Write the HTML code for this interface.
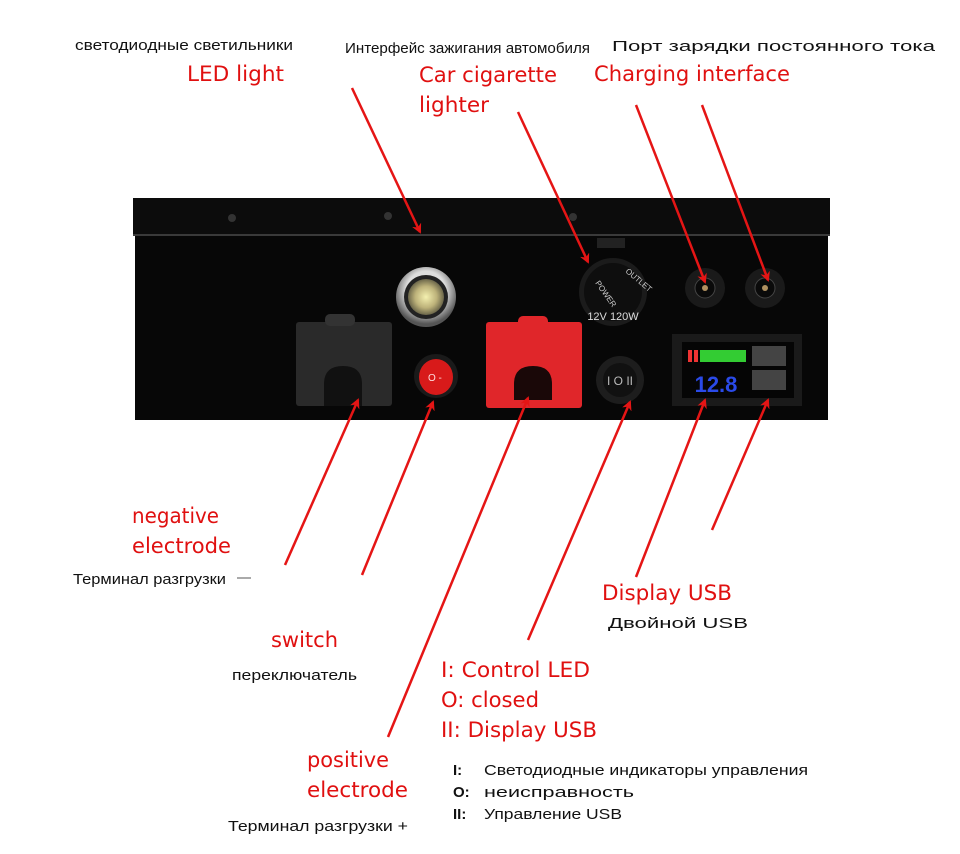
<!DOCTYPE html>
<html><head><meta charset="utf-8"><style>
html,body{margin:0;padding:0;background:#fff;}
svg{display:block}
text{font-family:"Liberation Sans","DejaVu Sans",sans-serif}
.r{fill:#e01010;font-size:21px;font-family:"DejaVu Sans",sans-serif}
.b{fill:#111;font-size:15px}
</style></head><body>
<svg width="960" height="854" viewBox="0 0 960 854" xmlns="http://www.w3.org/2000/svg">
<defs>
<marker id="ah" markerWidth="10" markerHeight="10" refX="8" refY="5" orient="auto" markerUnits="userSpaceOnUse" viewBox="0 0 10 10">
<path d="M0,0 L10,5 L0,10 L3,5z" fill="#e51515"/></marker>
<radialGradient id="led" cx="50%" cy="50%" r="50%"><stop offset="0" stop-color="#f4f0b0"/><stop offset="0.6" stop-color="#bdb27a"/><stop offset="1" stop-color="#6b664a"/></radialGradient>
<radialGradient id="ring" cx="50%" cy="40%" r="55%"><stop offset="0.6" stop-color="#ddd"/><stop offset="1" stop-color="#555"/></radialGradient>
</defs>
<rect x="133" y="198" width="697" height="38" fill="#0c0c0c"/>
<rect x="133" y="234" width="697" height="2" fill="#3a3a3a"/>
<rect x="135" y="236" width="693" height="184" fill="#070707"/>
<circle cx="232" cy="218" r="4" fill="#333"/><circle cx="388" cy="216" r="4" fill="#333"/><circle cx="573" cy="217" r="4" fill="#333"/>
<circle cx="426" cy="297" r="30" fill="url(#ring)"/>
<circle cx="426" cy="297" r="22" fill="#222"/>
<circle cx="426" cy="297" r="18" fill="url(#led)"/>
<rect x="597" y="238" width="28" height="10" fill="#222"/>
<circle cx="613" cy="292" r="34" fill="#1b1b1b"/>
<circle cx="613" cy="292" r="29" fill="#0e0e0e"/>
<text x="613" y="320" font-size="11" fill="#ddd" text-anchor="middle">12V 120W</text>
<text x="595" y="283" font-size="8" fill="#ccc" transform="rotate(55 595 283)">POWER</text>
<text x="625" y="272" font-size="8" fill="#ccc" transform="rotate(40 625 272)">OUTLET</text>
<circle cx="705" cy="288" r="20" fill="#1a1a1a"/><circle cx="705" cy="288" r="10" fill="#0a0a0a" stroke="#444"/><circle cx="705" cy="288" r="3" fill="#b09060"/>
<circle cx="765" cy="288" r="20" fill="#1a1a1a"/><circle cx="765" cy="288" r="10" fill="#0a0a0a" stroke="#444"/><circle cx="765" cy="288" r="3" fill="#b09060"/>
<rect x="296" y="322" width="96" height="84" rx="3" fill="#2a2a2a"/>
<rect x="325" y="314" width="30" height="12" rx="5" fill="#333"/>
<path d="M324,406 V384 Q324,366 343,366 Q362,366 362,384 V406z" fill="#111"/>
<circle cx="436" cy="376" r="22" fill="#1a1a1a"/>
<ellipse cx="436" cy="377" rx="17" ry="18" fill="#d81a1a"/>
<text x="428" y="381" font-size="10" fill="#fdd">O -</text>
<rect x="486" y="322" width="96" height="86" rx="3" fill="#e0262a"/>
<rect x="518" y="316" width="30" height="12" rx="5" fill="#e0262a"/>
<path d="M514,400 V384 Q514,366 533,366 Q552,366 552,384 V400z" fill="#1a0808"/>
<circle cx="620" cy="380" r="24" fill="#1d1d1d"/><circle cx="620" cy="380" r="17" fill="#111"/>
<text x="620" y="385" font-size="12" fill="#bbb" text-anchor="middle">I O II</text>
<rect x="672" y="334" width="130" height="72" fill="#1a1a1a"/>
<rect x="682" y="342" width="112" height="56" fill="#050505"/>
<rect x="688" y="350" width="4" height="12" fill="#e33"/><rect x="694" y="350" width="4" height="12" fill="#e33"/>
<rect x="700" y="350" width="46" height="12" fill="#3c3"/>
<text x="716" y="392" font-size="22" fill="#2a4ae8" text-anchor="middle" font-weight="bold">12.8</text>
<rect x="752" y="346" width="34" height="20" fill="#444"/><rect x="752" y="370" width="34" height="20" fill="#444"/>
<g stroke="#e51515" stroke-width="2.5" marker-end="url(#ah)">
<line x1="352" y1="88" x2="420" y2="232"/>
<line x1="518" y1="112" x2="588" y2="262"/>
<line x1="636" y1="105" x2="705" y2="282"/>
<line x1="702" y1="105" x2="768" y2="280"/>
<line x1="285" y1="565" x2="358" y2="400"/>
<line x1="362" y1="575" x2="433" y2="402"/>
<line x1="388" y1="737" x2="528" y2="398"/>
<line x1="528" y1="640" x2="630" y2="402"/>
<line x1="636" y1="577" x2="705" y2="400"/>
<line x1="712" y1="530" x2="768" y2="400"/>
</g>
<g lengthAdjust="spacingAndGlyphs">
<text x="75" y="50" class="b" textLength="218" lengthAdjust="spacingAndGlyphs">светодиодные светильники</text>
<text x="187" y="81" class="r" textLength="97" lengthAdjust="spacingAndGlyphs">LED light</text>
<text x="345" y="53" class="b" font-size="14" textLength="245" lengthAdjust="spacingAndGlyphs">Интерфейс зажигания автомобиля</text>
<text x="419" y="82" class="r" textLength="138" lengthAdjust="spacingAndGlyphs">Car cigarette</text>
<text x="419" y="112" class="r" textLength="70" lengthAdjust="spacingAndGlyphs">lighter</text>
<text x="612" y="51" class="b" font-size="16" textLength="323" lengthAdjust="spacingAndGlyphs">Порт зарядки постоянного тока</text>
<text x="594" y="81" class="r" textLength="196" lengthAdjust="spacingAndGlyphs">Charging interface</text>
<text x="132" y="523" class="r" textLength="87" lengthAdjust="spacingAndGlyphs">negative</text>
<text x="132" y="553" class="r" textLength="99" lengthAdjust="spacingAndGlyphs">electrode</text>
<text x="73" y="584" class="b" font-size="14" textLength="153" lengthAdjust="spacingAndGlyphs">Терминал разгрузки</text>
<line x1="237" y1="578" x2="251" y2="578" stroke="#555" stroke-width="1"/>
<text x="271" y="647" class="r" textLength="67" lengthAdjust="spacingAndGlyphs">switch</text>
<text x="232" y="680" class="b" textLength="125" lengthAdjust="spacingAndGlyphs">переключатель</text>
<text x="307" y="767" class="r" textLength="82" lengthAdjust="spacingAndGlyphs">positive</text>
<text x="307" y="797" class="r" textLength="101" lengthAdjust="spacingAndGlyphs">electrode</text>
<text x="228" y="831" class="b" font-size="14" textLength="180" lengthAdjust="spacingAndGlyphs">Терминал разгрузки +</text>
<text x="441" y="677" class="r" textLength="149" lengthAdjust="spacingAndGlyphs">I: Control LED</text>
<text x="441" y="707" class="r" textLength="98" lengthAdjust="spacingAndGlyphs">O: closed</text>
<text x="441" y="737" class="r" textLength="156" lengthAdjust="spacingAndGlyphs">II: Display USB</text>
<text x="453" y="775" class="b" font-weight="bold">I:</text><text x="484" y="775" class="b" font-size="16" textLength="324" lengthAdjust="spacingAndGlyphs">Светодиодные индикаторы управления</text>
<text x="453" y="797" class="b" font-weight="bold">O:</text><text x="484" y="797" class="b" font-size="16" textLength="150" lengthAdjust="spacingAndGlyphs">неисправность</text>
<text x="453" y="819" class="b" font-weight="bold">II:</text><text x="484" y="819" class="b" font-size="16" textLength="138" lengthAdjust="spacingAndGlyphs">Управление USB</text>
<text x="602" y="600" class="r" textLength="130" lengthAdjust="spacingAndGlyphs">Display USB</text>
<text x="608" y="628" class="b" font-size="16" textLength="140" lengthAdjust="spacingAndGlyphs">Двойной USB</text>
</g>
</svg>
</body></html>
